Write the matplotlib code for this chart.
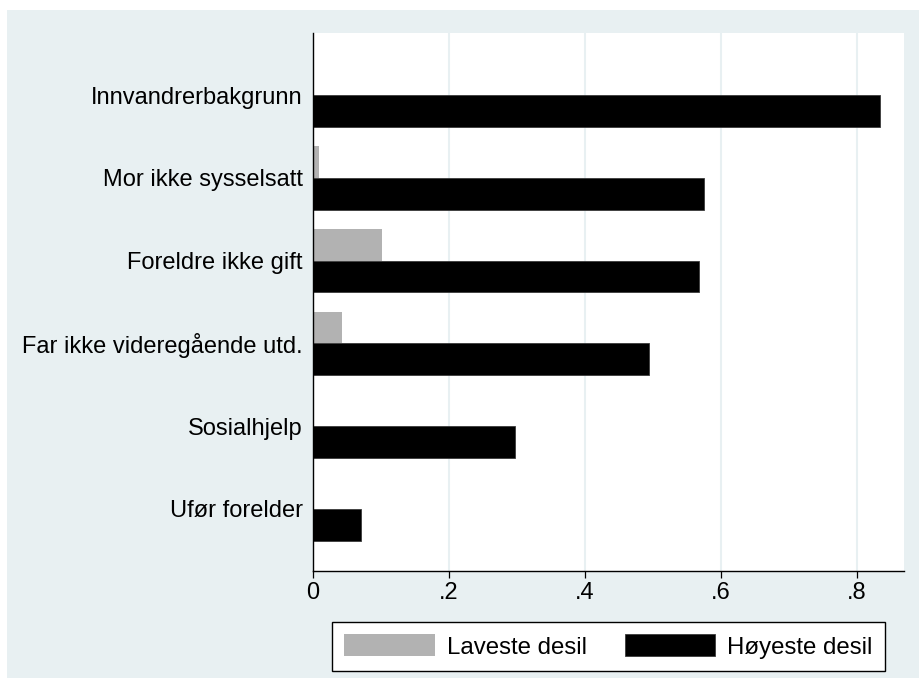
import matplotlib
matplotlib.use("Agg")
import matplotlib.pyplot as plt
from matplotlib.patches import Rectangle
import numpy as np

categories = ["Innvandrerbakgrunn", "Mor ikke sysselsatt", "Foreldre ikke gift",
              "Far ikke videregående utd.", "Sosialhjelp", "Ufør forelder"]
laveste = [0.0, 0.009, 0.101, 0.043, 0.0, 0.0]
hoyeste = [0.834, 0.576, 0.568, 0.494, 0.297, 0.070]
xticks = [0, 0.2, 0.4, 0.6, 0.8]
xticklabels = ["0", ".2", ".4", ".6", ".8"]
series_names = ["Laveste desil", "Høyeste desil"]

plt.rcParams['font.family'] = ['Liberation Sans', 'DejaVu Sans']
FS = 17

W, H = 920, 678
fig = plt.figure(figsize=(W / 100, H / 100), dpi=100)
fig.patch.set_facecolor("white")
bg = "#E8F0F2"
fig.patches.append(Rectangle((7 / W, 0), 1 - 7 / W, 1 - 10 / H, transform=fig.transFigure,
                             facecolor=bg, edgecolor="none", zorder=-10))

ax = fig.add_axes([313 / W, 1 - 570.7 / H, (904 - 313) / W, (570.7 - 33.3) / H])
ax.set_facecolor("white")

pos = np.arange(len(categories))
h = 0.385
ax.barh(pos - h / 2, laveste, height=h, color="#B2B2B2", edgecolor="none",
        label=series_names[0], zorder=3)
ax.barh(pos + h / 2, hoyeste, height=h, color="black", edgecolor="#3a3a3a",
        linewidth=0.6, label=series_names[1], zorder=3)

ax.set_xlim(0, (904 - 313) / 679.6)
ax.set_ylim(len(categories) - 0.25, -0.75)

ax.set_xticks(xticks)
ax.set_xticklabels(xticklabels, fontsize=FS)
ax.set_yticks(pos)
ax.set_yticklabels(categories, fontsize=FS)
ax.tick_params(axis="y", length=0, pad=7.2)
ax.tick_params(axis="x", length=5, width=0.9, pad=3, color="black")

for s in ["top", "right"]:
    ax.spines[s].set_visible(False)
for s in ["left", "bottom"]:
    ax.spines[s].set_color("black")
    ax.spines[s].set_linewidth(1.0)
    ax.spines[s].set_zorder(5)

ax.xaxis.grid(True, color=bg, linewidth=1.5, zorder=0)
ax.set_axisbelow(True)

leg = ax.legend(loc="center", bbox_to_anchor=(608.5 / W, 1 - 646.5 / H),
                bbox_transform=fig.transFigure, ncol=2, fontsize=17.3,
                frameon=True, fancybox=False, framealpha=1, edgecolor="black",
                handlelength=3.78, handleheight=1.04, handletextpad=0.5,
                columnspacing=1.56, borderpad=0.5)
leg.get_frame().set_linewidth(1.0)

fig.savefig("out.png", dpi=100, facecolor=fig.get_facecolor())
